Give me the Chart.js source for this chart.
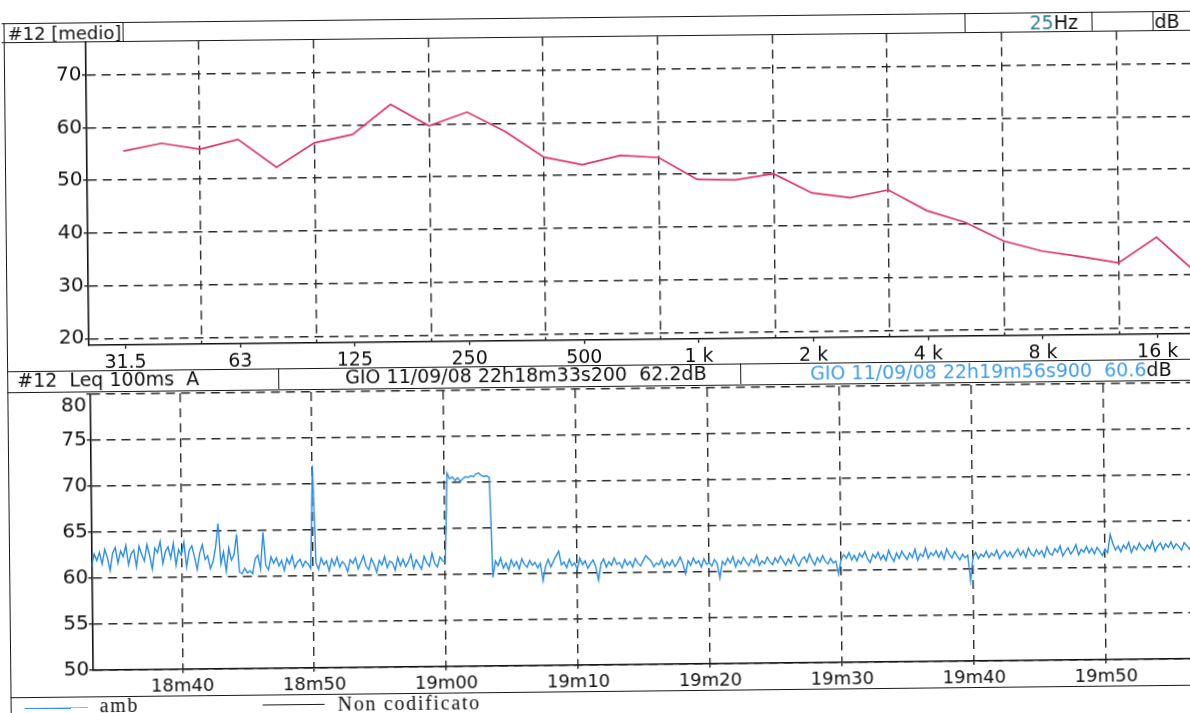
<!DOCTYPE html>
<html>
<head>
<meta charset="utf-8">
<script src="https://cdn.jsdelivr.net/npm/chart.js@4.4.1/dist/chart.umd.min.js"></script>
<style>
  html, body { margin: 0; padding: 0; background: #fff; width: 1190px; height: 713px; overflow: hidden; }
  #sheet {
    position: absolute; left: 0; top: 0; width: 1190px; height: 713px;
    transform: rotate(-0.6deg); transform-origin: 595px 356px;
    font-family: "DejaVu Sans", sans-serif; color: #111;
  }
  .hl { position: absolute; height: 0; border-top: 1.6px solid #1a1a1a; }
  .vl { position: absolute; width: 0; border-left: 1.6px solid #1a1a1a; }
  .txt { position: absolute; white-space: pre; font-size: 19px; line-height: 1; }
  .serif { font-family: "Liberation Serif", serif; font-size: 20px; letter-spacing: 1.7px; }
  canvas { position: absolute; }
</style>
</head>
<body>
<div id="sheet">
  <canvas id="spectrum" width="1215" height="370" style="left:0;top:0"></canvas>
  <canvas id="history" width="1200" height="330" style="left:0;top:365px"></canvas>

  <!-- spectrum header row -->
  <div class="hl" style="left:5px;top:17px;width:1215px"></div>
  <div class="hl" style="left:5px;top:35.8px;width:1215px"></div>
  <div class="vl" style="left:126px;top:17px;height:19px"></div>
  <div class="vl" style="left:968px;top:17px;height:19px"></div>
  <div class="vl" style="left:1095px;top:17px;height:19px"></div>
  <div class="vl" style="left:1156px;top:17px;height:19px"></div>
  <div class="txt" style="left:11px;top:19px;font-size:18px">#12 [medio]</div>
  <div class="txt" style="left:1033px;top:17.5px;font-size:19px"><span style="color:#2e7f92">25</span>Hz</div>
  <div class="txt" style="left:1158px;top:17.5px;font-size:19px">dB</div>

  <!-- outer frame -->
  <div class="vl" style="left:7px;top:17px;height:700px"></div>
  <div class="hl" style="left:7px;top:364.5px;width:1215px"></div>

  <!-- time history header row -->
  <div class="hl" style="left:7px;top:385.6px;width:1215px"></div>
  <div class="vl" style="left:278px;top:365px;height:21px"></div>
  <div class="vl" style="left:740px;top:365px;height:21px"></div>
  <div class="txt" style="left:17px;top:365.4px">#12  Leq 100ms  A</div>
  <div class="txt" style="left:345px;top:364.6px">GIO 11/09/08 22h18m33s200  62.2dB</div>
  <div class="txt" style="left:810px;top:366px"><span style="color:#3f9ded">GIO 11/09/08 22h19m56s900  60.6</span>dB</div>

  <!-- legend row -->
  <div class="hl" style="left:7px;top:690.5px;width:1215px"></div>
  <div class="hl" style="left:21px;top:701.5px;width:63px;border-top-color:#3a95e8"></div>
  <div class="txt serif" style="left:96px;top:690px">amb</div>
  <div class="hl" style="left:259px;top:701px;width:62px;border-top-width:1.3px"></div>
  <div class="txt serif" style="left:334px;top:691px">Non codificato</div>
</div>

<script>
// 1/3 octave spectrum, average level per band (dB)
const bands = ['25', '31.5', '40', '50', '63', '80', '100', '125', '160', '200', '250', '315',
  '400', '500', '630', '800', '1k', '1.25k', '1.6k', '2k', '2.5k', '3.15k', '4k', '5k',
  '6.3k', '8k', '10k', '12.5k', '16k', '20k'];
const spectrumDb = [null, 55.5, 56.9, 55.7, 57.5, 52.1, 56.7, 58.2, 63.8, 59.7, 62.2, 58.4,
  53.5, 52.0, 53.7, 53.2, 49.0, 48.8, 49.9, 46.2, 45.2, 46.6, 42.6, 40.3,
  36.7, 34.7, 33.6, 32.3, 37.1, 30.5];
const octaveBands = ['31.5', '63', '125', '250', '500', '1k', '2k', '4k', '8k', '16k'];
const octaveLabels = ['31.5', '63', '125', '250', '500', '1 k', '2 k', '4 k', '8 k', '16 k'];
const spectrumGridBands = ['50', '100', '200', '400', '800', '1.6k', '3.15k', '6.3k', '12.5k'];
const spectrumTicksDb = [20, 30, 40, 50, 60, 70];

// Leq 100ms A time history, seconds after 22h18m, one value every 0.2 s
const startSec = 33.2;
const endSec = 116.9;
const stepSec = 0.2;
const levelsDb = [
  61.3, 62.6, 61.9, 62.8, 61.5, 63.1, 62.2, 60.8, 62.7, 63.3,
  61.6, 62.9, 62.3, 63.5, 61.4, 62.6, 63.0, 61.2, 63.4, 62.5,
  61.8, 63.6, 62.4, 60.9, 63.2, 62.7, 63.9, 61.5, 62.8, 63.3,
  62.1, 63.7, 61.3, 63.0, 62.4, 63.8, 61.1, 62.9, 63.4, 62.2,
  60.8, 62.6, 63.5, 61.9, 62.3, 60.9, 61.6, 63.2, 65.8, 61.4,
  62.7, 60.6, 63.1, 61.8, 62.4, 64.6, 60.5, 60.3, 60.9, 60.4,
  60.6, 60.3, 61.9, 62.3, 60.8, 64.8, 61.2, 60.7, 62.1, 61.4,
  62.0, 61.1, 61.7, 60.6, 61.9, 61.3, 62.2, 60.9, 61.5, 61.8,
  61.0, 61.6, 61.3, 60.8, 72.0, 61.4, 60.7, 61.9, 61.2, 61.6,
  60.5, 61.8, 61.1, 62.0, 60.9, 61.5, 61.2, 60.4, 61.7, 61.3,
  61.9, 60.7, 61.4, 62.1, 61.0, 60.6, 61.8, 61.2, 60.3, 61.6,
  61.1, 62.0, 60.8, 61.5, 61.3, 60.5, 61.9, 61.0, 61.7, 60.9,
  61.4, 62.2, 60.7, 61.6, 61.1, 60.6, 62.0, 61.3, 60.9, 62.3,
  61.2, 60.8, 61.9, 61.5, 61.3, 71.0, 70.4, 70.6, 70.2, 70.5,
  70.1, 70.4, 70.6, 70.5, 70.7, 70.6, 70.9, 71.0, 70.7, 70.6,
  70.7, 70.5, 59.6, 61.4, 60.9, 61.7, 60.6, 61.2, 60.4, 61.5,
  60.8, 61.3, 60.5, 61.6, 61.0, 60.7, 61.4, 60.9, 61.2, 60.6,
  61.1, 59.2, 60.8, 61.5, 60.7, 61.3, 61.9, 62.4, 60.9, 61.2,
  60.6, 61.5, 60.8, 61.1, 60.4, 61.6, 60.9, 61.3, 60.5, 61.0,
  61.4, 60.7, 59.2, 61.0, 61.5, 60.6, 61.2, 60.8, 61.6, 60.9,
  61.1, 60.5, 61.4, 60.8, 61.2, 60.6, 61.5, 61.0, 60.7, 61.3,
  61.8, 61.5, 61.2, 60.6, 61.0, 60.8, 61.4, 60.5, 61.1, 60.7,
  61.3, 60.6, 61.0, 61.6, 60.9, 59.8, 61.2, 60.7, 61.5, 60.9,
  61.2, 60.5, 61.4, 60.8, 61.0, 60.6, 61.3, 60.9, 59.3, 61.1,
  60.7, 61.4, 60.9, 61.6, 60.5, 61.2, 60.8, 61.5, 61.0, 60.6,
  61.3, 60.9, 61.7, 60.6, 61.1, 60.8, 61.5, 61.0, 60.7, 61.4,
  60.9, 61.6, 61.1, 60.6, 61.3, 60.8, 61.7, 61.0, 60.5, 61.2,
  61.5, 60.9, 61.8, 61.1, 60.6, 61.4, 60.9, 61.6, 61.0, 60.7,
  61.3, 60.8, 61.0, 59.6, 61.2, 61.7, 61.3, 61.9, 61.1, 61.6,
  61.0, 61.8, 61.4, 62.0, 61.2, 60.8, 61.7, 61.3, 61.9, 61.1,
  61.6, 61.0, 62.1, 61.4, 60.9, 61.8, 61.2, 62.0, 61.5, 61.1,
  61.8, 61.3, 62.2, 61.0, 61.7, 61.4, 62.3, 61.2, 61.8, 61.5,
  62.0, 61.3, 61.9, 61.1, 62.2, 61.6, 61.2, 61.9, 61.4, 61.0,
  61.6, 61.2, 61.5, 58.7, 61.3, 61.8, 61.1, 61.6, 61.3, 61.9,
  61.2, 61.7, 61.4, 62.0, 61.1, 61.6, 61.9, 61.3, 61.8, 61.2,
  61.7, 62.1, 61.4, 61.9, 61.2, 62.2, 61.6, 61.3, 62.0, 61.5,
  61.9, 61.2, 62.3, 61.6, 61.4, 62.1, 61.7, 62.4, 61.3, 61.8,
  62.2, 61.5, 61.9, 62.5, 61.4, 62.0, 61.7, 62.3, 61.6, 62.1,
  61.5, 62.2, 61.8, 61.3, 62.0, 61.6, 63.6, 62.6, 61.9, 62.3,
  61.7, 62.4, 62.0, 62.7, 61.6, 62.3, 61.9, 62.6, 62.1, 61.8,
  62.4, 62.0, 62.8, 61.7, 62.3, 62.6, 61.9, 62.5, 62.1, 62.7,
  62.0, 62.5, 62.2, 61.8, 62.6, 62.3, 61.9, 62.4, 62.2
];
const timeTickSec = [40, 50, 60, 70, 80, 90, 100, 110];
const timeTickLabels = ['18m40', '18m50', '19m00', '19m10', '19m20', '19m30', '19m40', '19m50'];
const levelTicksDb = [50, 55, 60, 65, 70, 75, 80];

const ink = '#111';
const gridInk = '#2a2a2a';
const clear = 'rgba(0,0,0,0)';
const dash = [9, 6];

const labelIdx = octaveBands.map(b => bands.indexOf(b));
const gridIdx = spectrumGridBands.map(b => bands.indexOf(b));
const tickValue = c => (c.tick ? c.tick.value : NaN);

const baseOptions = {
  responsive: false,
  animation: false,
  events: [],
  plugins: { legend: { display: false }, tooltip: { enabled: false } }
};

new Chart(document.getElementById('spectrum'), {
  type: 'line',
  data: {
    datasets: [{
      data: spectrumDb.map((v, i) => ({ x: i, y: v })),
      borderColor: '#e03566',
      borderWidth: 1.7,
      pointRadius: 0,
      tension: 0
    }]
  },
  options: {
    ...baseOptions,
    layout: { padding: { top: 36.5, right: 7.6, left: 0, bottom: 0 } },
    scales: {
      x: {
        type: 'linear',
        min: 0.044,
        max: 29.3,
        afterBuildTicks: s => {
          s.ticks = [...labelIdx, ...gridIdx].sort((a, b) => a - b).map(v => ({ value: v }));
        },
        afterFit: s => { s.height = 30.3; },
        ticks: {
          autoSkip: false, maxRotation: 0, padding: 2.5, color: ink,
          font: { family: 'DejaVu Sans', size: 19 },
          callback: v => {
            const k = labelIdx.indexOf(v);
            return k < 0 ? '' : octaveLabels[k];
          }
        },
        grid: {
          color: c => (gridIdx.includes(tickValue(c)) ? gridInk : clear),
          tickColor: c => (labelIdx.includes(tickValue(c)) ? ink : clear),
          lineWidth: 1.4, tickLength: 4, tickWidth: 1.3, tickBorderDash: []
        },
        border: { color: ink, width: 1.6, dash: dash }
      },
      y: {
        min: 18.77,
        max: 76.3,
        afterBuildTicks: s => { s.ticks = spectrumTicksDb.map(v => ({ value: v })); },
        afterFit: s => { s.width = 89; },
        ticks: { autoSkip: false, padding: 0.5, color: ink, font: { family: 'DejaVu Sans', size: 20 } },
        grid: { color: gridInk, tickColor: ink, lineWidth: 1.4, tickLength: 4, tickWidth: 1.3, tickBorderDash: [] },
        border: { color: ink, width: 1.6, dash: dash }
      }
    }
  }
});

new Chart(document.getElementById('history'), {
  type: 'line',
  data: {
    datasets: [{
      data: levelsDb.map((v, i) => ({ x: startSec + i * stepSec, y: v })),
      borderColor: '#2a8ce6',
      borderWidth: 1.4,
      pointRadius: 0,
      tension: 0
    }]
  },
  options: {
    ...baseOptions,
    layout: { padding: { top: 21.3, right: 6, left: 0, bottom: 0 } },
    scales: {
      x: {
        type: 'linear',
        min: startSec,
        max: endSec,
        afterBuildTicks: s => { s.ticks = timeTickSec.map(v => ({ value: v })); },
        afterFit: s => { s.height = 30.3; },
        ticks: {
          autoSkip: false, maxRotation: 0, padding: 3, color: ink,
          font: { family: 'DejaVu Sans', size: 18 },
          callback: v => timeTickLabels[timeTickSec.indexOf(v)]
        },
        grid: { color: gridInk, tickColor: ink, lineWidth: 1.4, tickLength: 4, tickWidth: 1.3, tickBorderDash: [] },
        border: { color: ink, width: 1.6, dash: dash }
      },
      y: {
        min: 50,
        max: 80,
        afterBuildTicks: s => { s.ticks = levelTicksDb.map(v => ({ value: v })); },
        afterFit: s => { s.width = 89.5; },
        ticks: {
          autoSkip: false, padding: 0, color: ink, font: { family: 'DejaVu Sans', size: 20 },
          // top label sits just under the header line
          callback: v => (v === 80 ? ['', '80'] : String(v))
        },
        grid: { color: gridInk, tickColor: ink, lineWidth: 1.4, tickLength: 3.5, tickWidth: 1.3, tickBorderDash: [] },
        border: { color: ink, width: 1.6, dash: dash }
      }
    }
  }
});
</script>
</body>
</html>
